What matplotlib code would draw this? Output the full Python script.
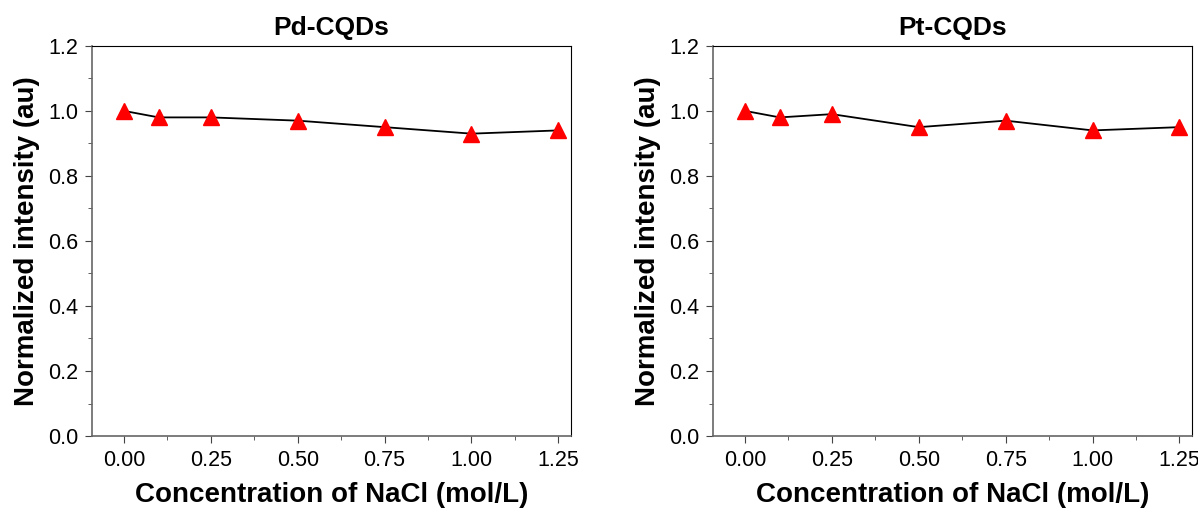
import matplotlib.pyplot as plt
from matplotlib.ticker import MultipleLocator

plt.rcParams['font.family'] = ['Liberation Sans', 'DejaVu Sans']

conc = [0.0, 0.1, 0.25, 0.5, 0.75, 1.0, 1.25]
pd_vals = [1.00, 0.98, 0.98, 0.97, 0.95, 0.93, 0.94]
pt_vals = [1.00, 0.98, 0.99, 0.95, 0.97, 0.94, 0.95]
titles = ['Pd-CQDs', 'Pt-CQDs']

fig = plt.figure(figsize=(11.98, 5.08), dpi=100)
ax1 = fig.add_axes([0.0768, 0.1417, 0.400, 0.768])
ax2 = fig.add_axes([0.5952, 0.1417, 0.400, 0.768])

for ax, vals, title in zip([ax1, ax2], [pd_vals, pt_vals], titles):
    ax.plot(conc, vals, color='black', lw=1.3, marker='^', ms=11,
            mfc='red', mec='red', zorder=3)
    ax.set_xlim(-0.092, 1.287)
    ax.set_ylim(0, 1.2)
    ax.xaxis.set_major_locator(MultipleLocator(0.25))
    ax.xaxis.set_minor_locator(MultipleLocator(0.125))
    ax.yaxis.set_major_locator(MultipleLocator(0.2))
    ax.yaxis.set_minor_locator(MultipleLocator(0.1))
    ax.xaxis.set_major_formatter(plt.FormatStrFormatter('%.2f'))
    ax.yaxis.set_major_formatter(plt.FormatStrFormatter('%.1f'))
    ax.tick_params(which='both', direction='out', top=False, right=False,
                   labelsize=15.5, color='#444444')
    ax.tick_params(which='major', length=5, pad=5)
    ax.tick_params(which='minor', length=3)
    for s in ['left', 'bottom']:
        ax.spines[s].set_color('#666666')
        ax.spines[s].set_linewidth(1.2)
    for s in ['top', 'right']:
        ax.spines[s].set_color('black')
        ax.spines[s].set_linewidth(0.8)
    ax.set_title(title, fontsize=19, fontweight='bold', pad=8)
    ax.set_xlabel('Concentration of NaCl (mol/L)', fontsize=20, fontweight='bold',
                  labelpad=8)
    ax.set_ylabel('Normalized intensity (au)', fontsize=20, fontweight='bold',
                  labelpad=6)

fig.savefig('out.png', dpi=100)
